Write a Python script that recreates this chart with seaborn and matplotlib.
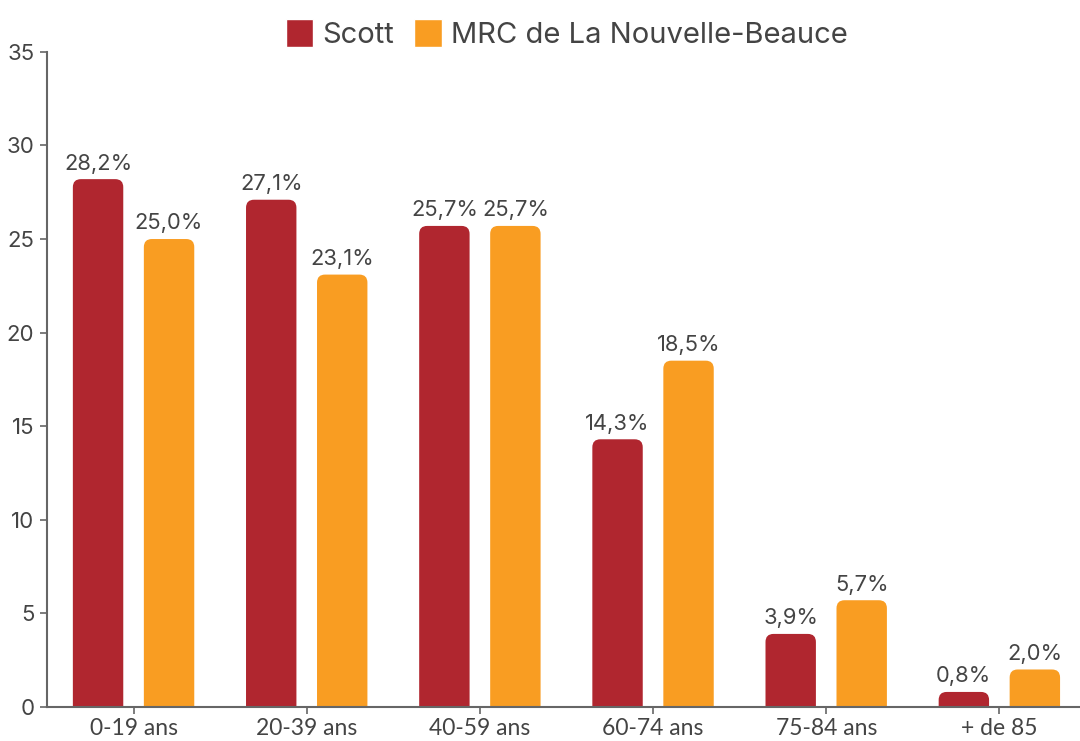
import pandas as pd
import numpy as np
import matplotlib
matplotlib.use("Agg")
import matplotlib.pyplot as plt
import seaborn as sns
from matplotlib.patches import FancyBboxPatch

# data
groupes = ["0-19 ans", "20-39 ans", "40-59 ans", "60-74 ans", "75-84 ans", "+ de 85"]
scott = [28.2, 27.1, 25.7, 14.3, 3.9, 0.8]
mrc = [25.0, 23.1, 25.7, 18.5, 5.7, 2.0]
series = ["Scott", "MRC de La Nouvelle-Beauce"]
couleurs = ["#B0262F", "#F99D22"]

df = pd.DataFrame({
    "groupe": groupes * 2,
    "valeur": scott + mrc,
    "serie": [series[0]] * len(groupes) + [series[1]] * len(groupes),
})

sns.set_theme(style="white")
plt.rcParams["font.family"] = ["Inter", "DejaVu Sans"]
txt = "#444444"

fig = plt.figure(figsize=(10.8, 7.41), dpi=100)
ax = fig.add_axes([0.0435, 0.046, 0.962, 0.884])

sns.barplot(data=df, x="groupe", y="valeur", hue="serie", palette=couleurs,
            width=0.82, gap=0.29, ax=ax, saturation=1)

ax.set_xlim(-0.5, 5.5)
ax.set_ylim(0, 35)
ax.set_yticks(range(0, 36, 5))

# rounded tops: swap rectangles for rounded boxes, bottom hidden below 0
fig.canvas.draw()
bb = ax.get_window_extent()
px_x = bb.width / 6.0
px_y = bb.height / 35.0
r = 8 / px_x
aspect = px_x / px_y
for cont, vals in zip(ax.containers, [scott, mrc]):
    for p, v in zip(cont.patches, vals):
        x0, w, h = p.get_x(), p.get_width(), p.get_height()
        col = p.get_facecolor()
        p.set_visible(False)
        fb = FancyBboxPatch((x0, -1.5), w, h + 1.5,
                            boxstyle=f"round,pad=0,rounding_size={r}",
                            mutation_aspect=aspect, fc=col, ec="none")
        ax.add_patch(fb)
        ax.annotate(f"{v:.1f}%".replace(".", ","), (x0 + w / 2, h),
                    xytext=(0, 4), textcoords="offset points",
                    ha="center", va="bottom", fontsize=15.8, color=txt)

for s in ["top", "right"]:
    ax.spines[s].set_visible(False)
for s in ["left", "bottom"]:
    ax.spines[s].set_color("#666666")
    ax.spines[s].set_linewidth(1.5)

ax.tick_params(axis="y", left=True, length=5, width=1.2, color="#666666",
               labelsize=16, labelcolor=txt, pad=4)
ax.tick_params(axis="x", bottom=True, length=5, width=1.2, color="#666666",
               labelsize=16.5, labelcolor=txt, pad=3)
for lab in ax.get_xticklabels():
    lab.set_fontfamily(["Lato", "DejaVu Sans"])
ax.set_xlabel("")
ax.set_ylabel("")

sns.move_legend(ax, "upper center", bbox_to_anchor=(0.5, 1.09), ncol=2,
                frameon=False, title=None, fontsize=21, handlelength=0.95,
                handleheight=1.1, handletextpad=0.3, columnspacing=0.7)
for t in ax.get_legend().get_texts():
    t.set_color(txt)

fig.savefig("out.png", dpi=100)
